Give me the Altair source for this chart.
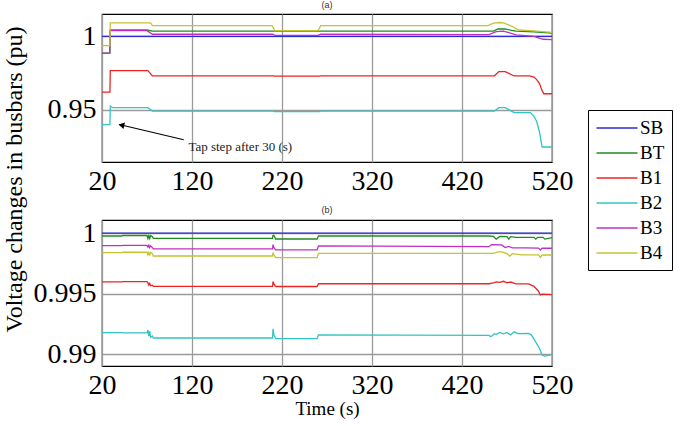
import altair as alt
import pandas as pd

SERIES = ["SB", "BT", "B1", "B2", "B3", "B4"]
COLORS = ["#2b2bd6", "#1f8c1f", "#ee2424", "#30c4c4", "#c030c0", "#c4c430"]

X_TICKS = [20, 120, 220, 320, 420, 520]

# ---------------- panel (a): busbar voltages (pu) ----------------
a_t_sb = [20, 520]
a_v_sb = [1.0, 1.0]

a_t_bt = [20, 28.8, 29.2, 70, 76, 455, 460, 468, 475, 480, 500, 520]
a_v_bt = [0.9885, 0.9885, 1.0043, 1.0043, 1.0036, 1.0036, 1.0050, 1.0050,
          1.0040, 1.0036, 1.0030, 1.0022]

a_t_b1 = [20, 28.8, 29.2, 71, 76, 210, 211, 262, 263, 456, 461, 468, 478,
          495, 500, 503, 506, 509, 511, 520]
a_v_b1 = [0.9620, 0.9620, 0.9767, 0.9767, 0.9731, 0.9731, 0.9729, 0.9729,
          0.9731, 0.9731, 0.9760, 0.9760, 0.9730, 0.9730, 0.9722, 0.9705,
          0.9680, 0.9630, 0.9609, 0.9609]

a_t_b2 = [20, 28.8, 29.2, 32, 71, 76, 210, 211, 262, 263, 456, 461, 468,
          478, 496, 500, 503, 506, 509, 520]
a_v_b2 = [0.9398, 0.9398, 0.9525, 0.9514, 0.9514, 0.9491, 0.9491, 0.9487,
          0.9487, 0.9491, 0.9491, 0.9514, 0.9514, 0.9480, 0.9480, 0.9455,
          0.9420, 0.9350, 0.9246, 0.9246]

a_t_b3 = [20, 28.6, 29.0, 70, 76, 210, 212, 260, 263, 450, 458, 466, 472,
          480, 500, 510, 520]
a_v_b3 = [0.9885, 0.9885, 1.0039, 1.0039, 1.0014, 1.0014, 1.0006, 1.0006,
          1.0014, 1.0012, 1.0032, 1.0035, 1.0025, 1.0010, 1.0000, 0.9980,
          0.9978]

a_t_b4 = [20, 28.8, 29.2, 74, 76, 209, 212, 260, 263, 449, 455, 462, 466,
          475, 483, 500, 520]
a_v_b4 = [0.9937, 0.9937, 1.0091, 1.0091, 1.0073, 1.0073, 1.0039, 1.0039,
          1.0073, 1.0073, 1.0090, 1.0094, 1.0092, 1.0070, 1.0043, 1.0037,
          1.0027]

# ---------------- panel (b): busbar voltages (pu) ----------------
b_t_sb = [20, 520]
b_v_sb = [1.0, 1.0]

b_t_bt = [20, 42, 43, 70, 71, 72, 73, 74, 76, 77, 209.5, 210, 211, 213,
          259, 260.5, 450, 455, 458, 462, 470, 472, 474, 480, 500, 502,
          504, 510, 512, 520]
b_v_bt = [0.99976, 0.99976, 0.99980, 0.99980, 0.99955, 0.99980, 0.99955,
          0.99980, 0.99970, 0.99957, 0.99957, 0.99980, 0.99980, 0.99951,
          0.99951, 0.99976, 0.99976, 0.99972, 0.99950, 0.99972, 0.99970,
          0.99950, 0.99970, 0.99965, 0.99965, 0.99950, 0.99965, 0.99965,
          0.99950, 0.99963]

b_t_b1 = [20, 42, 43, 70, 71, 72, 73, 74, 76, 77, 209.5, 210, 211, 213,
          259, 260.5, 450, 455, 458, 462, 466, 470, 474, 480, 494, 500,
          505, 507, 509, 520]
b_v_b1 = [0.99597, 0.99597, 0.99600, 0.99600, 0.99590, 0.99570, 0.99585,
          0.99565, 0.99570, 0.99561, 0.99561, 0.99600, 0.99580, 0.99559,
          0.99559, 0.99582, 0.99582, 0.99590, 0.99598, 0.99594, 0.99602,
          0.99590, 0.99596, 0.99581, 0.99580, 0.99560, 0.99520, 0.99489,
          0.99495, 0.99492]

b_t_b2 = [20, 42, 43, 70, 71, 72, 73, 74, 76, 77, 209.5, 210, 211, 213,
          259, 260.5, 450, 452, 456, 458, 462, 466, 470, 474, 478, 482,
          494, 497, 502, 506, 509, 512, 520]
b_v_b2 = [0.99178, 0.99178, 0.99176, 0.99176, 0.99200, 0.99150, 0.99190,
          0.99140, 0.99150, 0.99134, 0.99134, 0.99210, 0.99160, 0.99129,
          0.99129, 0.99160, 0.99155, 0.99145, 0.99170, 0.99165, 0.99180,
          0.99168, 0.99178, 0.99160, 0.99185, 0.99170, 0.99172, 0.99160,
          0.99100, 0.99050, 0.98994, 0.98985, 0.98997]

b_t_b3 = [20, 42, 43, 70, 71, 72, 73, 74, 76, 77, 209.5, 210, 211, 213,
          259, 260.5, 450, 453, 464, 468, 472, 476, 490, 505, 507, 509, 520]
b_v_b3 = [0.99896, 0.99896, 0.99899, 0.99899, 0.99885, 0.99900, 0.99880,
          0.99895, 0.99880, 0.99869, 0.99869, 0.99905, 0.99880, 0.99861,
          0.99861, 0.99894, 0.99888, 0.99905, 0.99902, 0.99880, 0.99890,
          0.99878, 0.99878, 0.99876, 0.99860, 0.99876, 0.99875]

b_t_b4 = [20, 42, 43, 70, 71, 72, 73, 74, 76, 77, 209.5, 210, 211, 213,
          259, 260.5, 455, 460, 464, 470, 473, 476, 486, 505, 507, 509, 520]
b_v_b4 = [0.99838, 0.99838, 0.99842, 0.99842, 0.99820, 0.99840, 0.99820,
          0.99840, 0.99830, 0.99811, 0.99811, 0.99840, 0.99820, 0.99797,
          0.99797, 0.99833, 0.99833, 0.99845, 0.99845, 0.99830, 0.99810,
          0.99830, 0.99820, 0.99820, 0.99800, 0.99820, 0.99819]

# annotation in panel (a)
note_text = ["Tap step after 30 (s)"]
note_t = [116.0]
note_v = [0.9246]
arrow_tail_t = [110.8]
arrow_tail_v = [0.9296]
arrow_tip_t = [39.2]
arrow_tip_v = [0.9400]
arrow_head_t = [42.6]
arrow_head_v = [0.9394]


def frame(pairs):
    rows = []
    for name, ts, vs in pairs:
        for i, (t, v) in enumerate(zip(ts, vs)):
            rows.append({"bus": name, "t": t, "v": v, "i": i})
    return pd.DataFrame(rows)


df_a = frame([("SB", a_t_sb, a_v_sb), ("BT", a_t_bt, a_v_bt),
              ("B1", a_t_b1, a_v_b1), ("B2", a_t_b2, a_v_b2),
              ("B3", a_t_b3, a_v_b3), ("B4", a_t_b4, a_v_b4)])
df_b = frame([("SB", b_t_sb, b_v_sb), ("BT", b_t_bt, b_v_bt),
              ("B1", b_t_b1, b_v_b1), ("B2", b_t_b2, b_v_b2),
              ("B3", b_t_b3, b_v_b3), ("B4", b_t_b4, b_v_b4)])

SERIF = "Liberation Serif"
SANS = "Liberation Sans"

# legend swatch: a long horizontal stroke inside a compact row
legend = alt.Legend(
    title=None, orient="none", legendX=486, legendY=96,
    strokeColor="black", fillColor="white", padding=7,
    symbolType="M-2.05,0H2.05", symbolSize=400, symbolStrokeWidth=1.3,
    symbolFillColor="transparent",
    labelFont=SERIF, labelFontSize=19, labelColor="black",
    labelOffset=12, rowPadding=4, symbolOffset=11,
)
color = alt.Color("bus:N", scale=alt.Scale(domain=SERIES, range=COLORS),
                  legend=legend, sort=SERIES)


def x_axis(title=None):
    kw = dict(values=X_TICKS, grid=True, ticks=False, labelFont=SERIF,
              labelFontSize=28, labelColor="black", labelPadding=5,
              domain=False, labelFlush=False)
    if title:
        return alt.Axis(title=title, titleFont=SERIF, titleFontSize=19,
                        titleFontWeight="normal", titleColor="black",
                        titleY=42, titleBaseline="middle", **kw)
    return alt.Axis(title=None, **kw)


def y_axis(vals, title=None):
    kw = dict(values=vals, grid=True, ticks=False, labelFont=SERIF,
              labelFontSize=28, labelColor="black", labelPadding=6,
              domain=False, format="~g")
    if title:
        return alt.Axis(title=title, titleFont=SERIF, titleFontSize=24,
                        titleFontWeight="normal", titleColor="black",
                        titleX=-88, titleY=165, titleBaseline="middle",
                        titleAngle=-90, **kw)
    return alt.Axis(title=None, **kw)


def panel_title(txt):
    return alt.TitleParams(txt, font=SANS, fontSize=9, fontWeight="normal",
                           color="#333333", offset=4, anchor="middle")


lines_a = alt.Chart(df_a).mark_line(strokeWidth=1.3, clip=True).encode(
    x=alt.X("t:Q", scale=alt.Scale(domain=[20, 520], nice=False),
            axis=x_axis()),
    y=alt.Y("v:Q", scale=alt.Scale(domain=[0.9144, 1.0152], nice=False,
                                   zero=False),
            axis=y_axis([0.95, 1.0], "Voltage changes in busbars (pu)")),
    color=color,
    order="i:Q",
)

arrow_df = pd.DataFrame({"t": arrow_tail_t, "v": arrow_tail_v,
                         "t2": arrow_tip_t, "v2": arrow_tip_v})
arrow = alt.Chart(arrow_df).mark_rule(color="black", strokeWidth=1.1).encode(
    x="t:Q", y="v:Q", x2="t2:Q", y2="v2:Q")

head_df = pd.DataFrame({"t": arrow_head_t, "v": arrow_head_v})
head = alt.Chart(head_df).mark_point(
    shape="triangle", filled=True, color="black", size=45, angle=283,
    opacity=1).encode(x="t:Q", y="v:Q")

note_df = pd.DataFrame({"t": note_t, "v": note_v, "txt": note_text})
note = alt.Chart(note_df).mark_text(
    align="left", baseline="middle", font=SERIF, fontSize=13,
    color="#222222").encode(x="t:Q", y="v:Q", text="txt:N")

top = alt.layer(lines_a, arrow, head, note).properties(
    width=450, height=148, title=panel_title("(a)"))

lines_b = alt.Chart(df_b).mark_line(strokeWidth=1.3, clip=True).encode(
    x=alt.X("t:Q", scale=alt.Scale(domain=[20, 520], nice=False),
            axis=x_axis("Time (s)")),
    y=alt.Y("v:Q", scale=alt.Scale(domain=[0.98903, 1.00108], nice=False,
                                   zero=False),
            axis=y_axis([0.99, 0.995, 1.0])),
    color=color,
    order="i:Q",
)

bottom = lines_b.properties(width=450, height=146,
                            title=panel_title("(b)"))

chart = alt.vconcat(top, bottom, spacing=58, bounds="flush").resolve_scale(
    color="shared"
).properties(
    padding={"left": 1, "top": 0, "right": 5, "bottom": 5},
    background="white",
).configure_view(
    stroke="black", strokeWidth=1.2
).configure_axis(
    gridColor="#9a9a9a", gridWidth=1.3, gridOpacity=1,
)

chart.save("out.html", embed_options={"renderer": "svg", "actions": False})
